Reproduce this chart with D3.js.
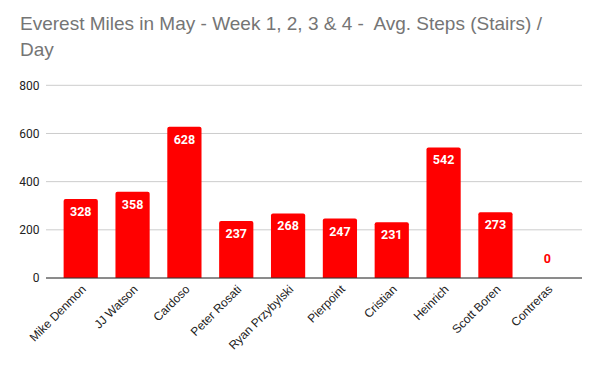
<!DOCTYPE html>
<html>
<head>
<meta charset="utf-8">
<script src="https://cdn.jsdelivr.net/npm/d3@7"></script>
<style>
  body { margin: 0; background: #fff; }
  svg { display: block; }
</style>
</head>
<body>
<div id="chart"></div>
<script>
var names = ["Mike Denmon", "JJ Watson", "Cardoso", "Peter Rosati", "Ryan Przybylski",
             "Pierpoint", "Cristian", "Heinrich", "Scott Boren", "Contreras"];
var steps = [328, 358, 628, 237, 268, 247, 231, 542, 273, 0];
var yTicks = [0, 200, 400, 600, 800];

var width = 600, height = 371;

var svg = d3.select("#chart").append("svg")
    .attr("width", width)
    .attr("height", height);

// title (two lines, keeps the double space)
var title = svg.append("text")
    .attr("x", 20)
    .attr("y", 30)
    .style("font-family", "Arial, 'Liberation Sans', sans-serif")
    .style("font-size", "19px")
    .style("white-space", "pre")
    .style("fill", "#757575");
title.append("tspan").attr("x", 20).attr("dy", 0)
    .text("Everest Miles in May - Week 1, 2, 3 & 4 -  Avg. Steps (Stairs) /");
title.append("tspan").attr("x", 20).attr("dy", 26).text("Day");

// scales
var x = d3.scaleBand()
    .domain(names)
    .range([46, 582])
    .padding(0.34);
var y = d3.scaleLinear()
    .domain([0, 800])
    .range([278, 85.3]);

// gridlines
svg.append("g")
  .selectAll("line")
  .data(yTicks)
  .enter().append("line")
    .attr("x1", 46)
    .attr("x2", 582)
    .attr("y1", function(d) { return y(d); })
    .attr("y2", function(d) { return y(d); })
    .attr("stroke", "#cccccc")
    .attr("stroke-width", 1);

// y axis labels
svg.append("g")
  .selectAll("text")
  .data(yTicks)
  .enter().append("text")
    .attr("x", 39.5)
    .attr("y", function(d) { return y(d); })
    .attr("dy", "0.35em")
    .attr("text-anchor", "end")
    .style("font-family", "Roboto, Arial, sans-serif")
    .style("font-size", "12px")
    .style("fill", "#222")
    .text(function(d) { return d; });

// bars with slightly rounded top corners
svg.append("g")
  .selectAll("path")
  .data(steps)
  .enter().append("path")
    .attr("fill", "#ff0000")
    .attr("d", function(d, i) {
      var x0 = x(names[i]), w = x.bandwidth();
      var y0 = y(d), y1 = y(0), r = Math.min(2, (y1 - y0) / 2);
      if (y1 - y0 <= 0) return "";
      return "M" + x0 + "," + y1 +
        "V" + (y0 + r) +
        "Q" + x0 + "," + y0 + " " + (x0 + r) + "," + y0 +
        "H" + (x0 + w - r) +
        "Q" + (x0 + w) + "," + y0 + " " + (x0 + w) + "," + (y0 + r) +
        "V" + y1 + "Z";
    });

// value labels
svg.append("g")
  .selectAll("text")
  .data(steps)
  .enter().append("text")
    .attr("x", function(d, i) { return x(names[i]) + x.bandwidth() / 2; })
    .attr("y", function(d) { return d > 0 ? y(d) + 17 : y(d) - 15.5; })
    .attr("text-anchor", "middle")
    .style("font-family", "Roboto, Arial, sans-serif")
    .style("font-size", "12.5px")
    .style("font-weight", "bold")
    .style("fill", function(d) { return d > 0 ? "#ffffff" : "#ff0000"; })
    .text(function(d) { return d; });

// baseline
svg.append("line")
    .attr("x1", 46)
    .attr("x2", 582)
    .attr("y1", y(0))
    .attr("y2", y(0))
    .attr("stroke", "#333")
    .attr("stroke-width", 1);

// category labels, rotated
svg.append("g")
  .selectAll("text")
  .data(names)
  .enter().append("text")
    .attr("transform", function(d) {
      return "translate(" + (x(d) + x.bandwidth() / 2 + 6) + ",290) rotate(-45)";
    })
    .attr("text-anchor", "end")
    .style("font-family", "Arial, 'Liberation Sans', sans-serif")
    .style("font-size", "12px")
    .style("fill", "#222")
    .text(function(d) { return d; });
</script>
</body>
</html>
